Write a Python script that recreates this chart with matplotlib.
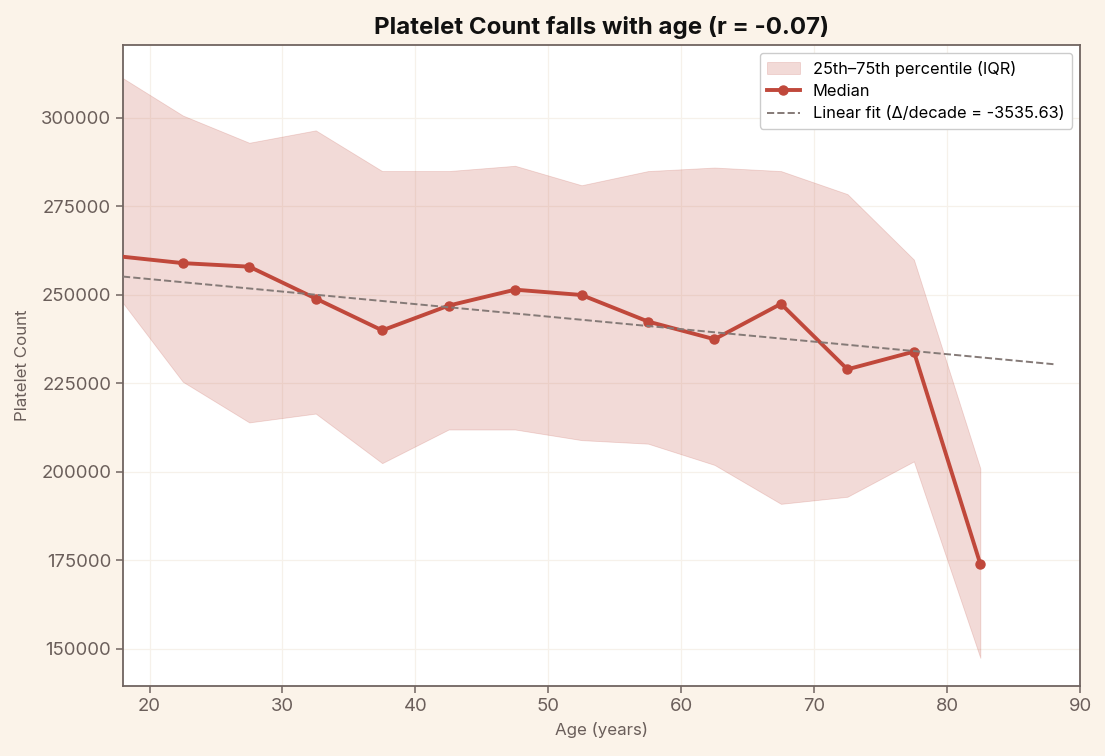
import matplotlib
matplotlib.use("Agg")
import matplotlib.pyplot as plt
import numpy as np
from matplotlib.ticker import FuncFormatter

plt.rcParams['font.family'] = ['Inter', 'DejaVu Sans']

age_mid = [17.5, 22.5, 27.5, 32.5, 37.5, 42.5, 47.5, 52.5, 57.5, 62.5, 67.5, 72.5, 77.5, 82.5]
median = [261000, 259000, 258000, 249000, 240000, 247000, 251500, 250000, 242500, 237500, 247500, 229000, 234000, 174000]
q25 = [250200, 225500, 214000, 216500, 202500, 212000, 212000, 209000, 208000, 202000, 191000, 193000, 203000, 147500]
q75 = [312400, 300700, 293000, 296500, 285000, 285000, 286500, 281000, 285000, 286000, 285000, 278500, 260000, 201000]
fit_x = [18, 88]
fit_at_18 = 255200
slope_per_decade = -3535.63
r_value = -0.07

bg = '#FBF3E9'
red = '#C0483B'
fig = plt.figure(figsize=(11.05, 7.56), dpi=100, facecolor=bg)
ax = fig.add_axes([0.1113, 0.0926, 0.8661, 0.8479])
ax.set_facecolor('white')

ax.fill_between(age_mid, q25, q75, facecolor='#C0483B', alpha=0.2, edgecolor='#C0483B',
                linewidth=0.6, label='25th\u201375th percentile (IQR)', zorder=2)
ax.plot(age_mid, median, color=red, lw=2.8, marker='o', ms=6.5, label='Median', zorder=3)
fx = np.array(fit_x, dtype=float)
fy = fit_at_18 + slope_per_decade / 10 * (fx - fit_x[0])
ax.plot(fx, fy, ls='--', color='#857A77', lw=1.4,
        label=f'Linear fit (\u0394/decade = {slope_per_decade:.2f})', zorder=4)

ax.set_xlim(18, 90)
ax.set_ylim(139550, 320620)
ax.set_xticks([20, 30, 40, 50, 60, 70, 80, 90])
ax.set_yticks([150000, 175000, 200000, 225000, 250000, 275000, 300000])
ax.yaxis.set_major_formatter(FuncFormatter(lambda v, p: f'{int(v)}'))
ax.grid(True, color='#F6F1EA', lw=0.9, zorder=0)
ax.set_axisbelow(True)

spine_c = '#706460'
for s in ax.spines.values():
    s.set_color(spine_c)
    s.set_linewidth(1.3)
ax.tick_params(colors=spine_c, labelcolor='#6A5E5A', labelsize=13.3, length=5, width=1.1)

ax.set_xlabel('Age (years)', fontsize=12.2, color='#6A5E5A', labelpad=5)
ax.set_ylabel('Platelet Count', fontsize=12.2, color='#6A5E5A', labelpad=8)
ax.set_title(f'Platelet Count falls with age (r = {r_value:.2f})', fontsize=17.3,
             fontweight='bold', color='#111111', pad=8)

leg = ax.legend(loc='upper right', fontsize=11.8, frameon=True, fancybox=True,
                edgecolor='#CCCCCC', framealpha=1, borderpad=0.45, handlelength=2.0,
                labelspacing=0.45)
leg.get_frame().set_linewidth(1.0)

fig.savefig('out.png', dpi=100, facecolor=bg)
